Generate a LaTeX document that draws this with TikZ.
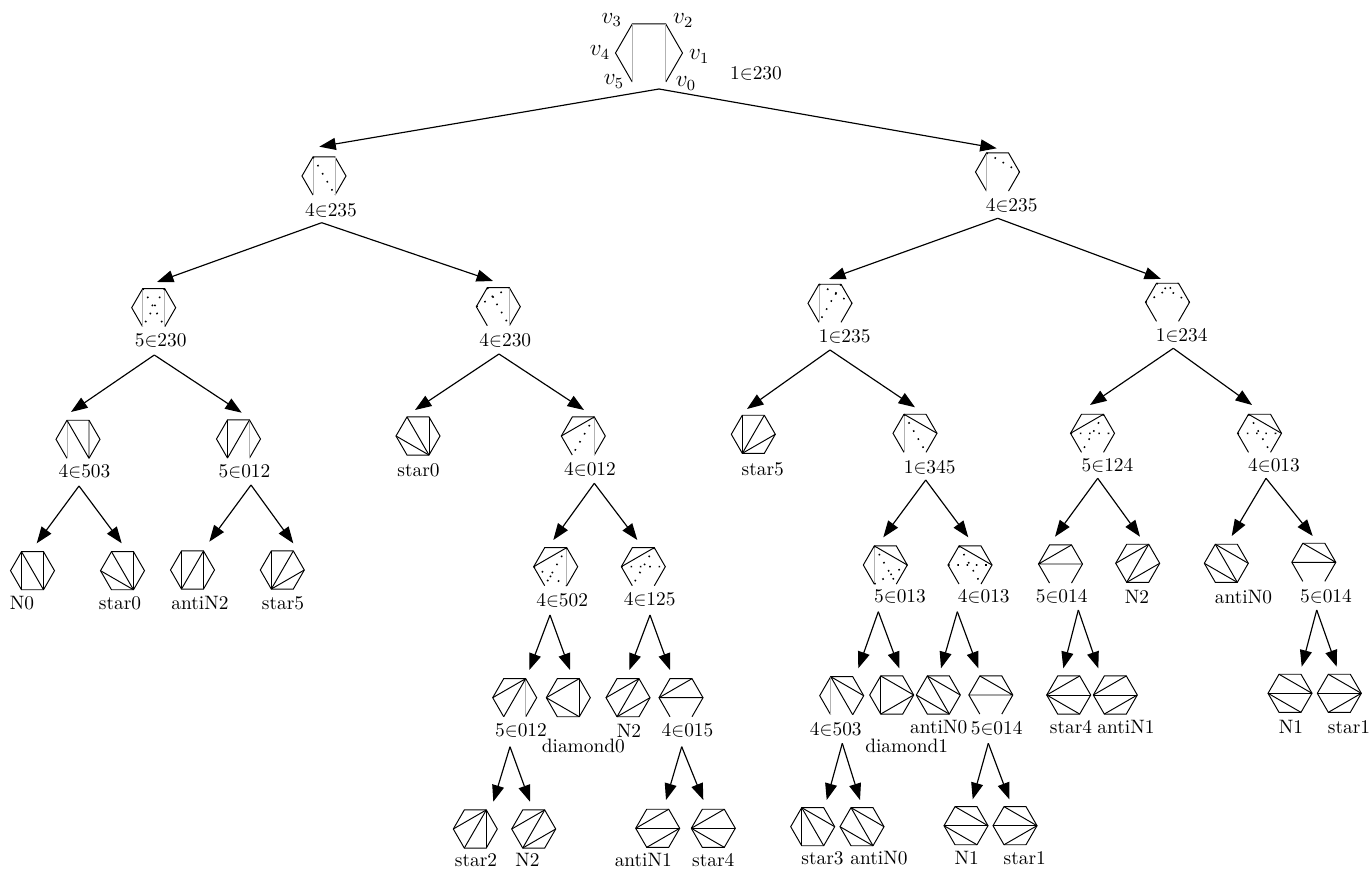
\documentclass[tikz,border=0pt]{standalone}
\usepackage{amsmath}
\usetikzlibrary{arrows.meta,calc}

\tikzset{
  arr/.style={-{Triangle[length=8.5pt,width=6.2pt]}, line width=0.6pt},
  lab/.style={inner sep=0pt},
  vlab/.style={font=\large},
  gry/.style={draw=black!30},
  dts/.style={loosely dotted, line width=0.8pt},
}
% open hexagon: name, centre, radius
\newcommand{\hexo}[3]{%
  \coordinate (#1) at (#2);
  \foreach \k in {0,...,5}{\coordinate (#1-\k) at ($(#1)+({60-60*\k}:#3)$);}
  \draw (#1-0)--(#1-1)--(#1-2)--(#1-3)--(#1-4)--(#1-5);
}
% full triangulation: name, centre, diagonals
\newcommand{\hexc}[3]{%
  \coordinate (#1) at (#2);
  \foreach \k in {0,...,5}{\coordinate (#1-\k) at ($(#1)+({60-60*\k}:22)$);}
  \draw (#1-0)--(#1-1)--(#1-2)--(#1-3)--(#1-4)--(#1-5)--cycle;
  \foreach \a/\b in {#3}{\draw (#1-\a)--(#1-\b);}
}

\begin{document}
\begin{tikzpicture}[x=0.516pt,y=-0.516pt,line width=0.5pt]
\useasboundingbox (0,0) rectangle (1371,869);
%root
\hexo{root}{649,53}{33.5}
\draw[gry] (root-3)--(root-5) (root-2)--(root-0);
\node[vlab] (v0) at (686,83.3) {$v_0$};
\node[vlab] (v1) at (699.3,56.7) {$v_1$};
\node[vlab] (v2) at (683.3,20.7) {$v_2$};
\node[vlab] (v3) at (611.7,20) {$v_3$};
\node[vlab] (v4) at (600,52.3) {$v_4$};
\node[vlab] (v5) at (614,81.7) {$v_5$};
\node[lab] (root-t) at (756,73) {1$\in$230};
\coordinate (root-out) at (659,89);
%level 1
\hexo{L}{324,176}{22}
\draw[gry] (L-3)--(L-5) (L-2)--(L-0);
\draw[dts] (L-3)--(L-0);
\node[lab] (L-t) at (331,210) {4$\in$235};
\coordinate (L-in) at (319.3,146.7);
\coordinate (L-out) at (321.7,222.7);
\hexo{R}{997.5,172}{22}
\draw[gry] (R-3)--(R-5);
\draw[dts] (R-3)--(R-1);
\node[lab] (R-t) at (1011.7,205) {4$\in$235};
\coordinate (R-in) at (996.7,148.3);
\coordinate (R-out) at (997.7,218.3);
%level 2
\hexo{LL}{153.7,307.7}{22}
\draw[gry] (LL-3)--(LL-5) (LL-2)--(LL-0);
\draw[dts] (LL-3)--(LL-0) (LL-2)--(LL-5);
\node[lab] (LL-t) at (160.7,340) {5$\in$230};
\coordinate (LL-in) at (157,282);
\coordinate (LL-out) at (154.3,355);
\hexo{LR}{498.3,306.7}{22}
\draw[gry] (LR-2)--(LR-0);
\draw[dts] (LR-4)--(LR-2) (LR-3)--(LR-0);
\node[lab] (LR-t) at (505.3,340) {4$\in$230};
\coordinate (LR-in) at (493,281);
\coordinate (LR-out) at (499,354);
\hexo{RL}{830,303.3}{22}
\draw[gry] (RL-3)--(RL-5);
\draw[dts] (RL-3)--(RL-1) (RL-2)--(RL-5);
\node[lab] (RL-t) at (844.7,336) {1$\in$235};
\coordinate (RL-in) at (829,279);
\coordinate (RL-out) at (830,350);
\hexo{RR}{1167.5,302.3}{22}
\draw[dts] (RR-4)--(RR-2) (RR-3)--(RR-1);
\node[lab] (RR-t) at (1181.7,335) {1$\in$234};
\coordinate (RR-in) at (1161,279);
\coordinate (RR-out) at (1173.3,348.3);
%level 3
\hexo{LLL}{78,439.3}{22}
\draw[gry] (LLL-3)--(LLL-5);
\draw (LLL-3)--(LLL-0) (LLL-2)--(LLL-0);
\node[lab] (LLL-t) at (84.5,471.7) {4$\in$503};
\coordinate (LLL-in) at (71,412);
\coordinate (LLL-out) at (79,486);
\hexo{LLR}{238.5,439}{22}
\draw[gry] (LLR-2)--(LLR-0);
\draw (LLR-3)--(LLR-5) (LLR-5)--(LLR-2);
\node[lab] (LLR-t) at (244.5,471) {5$\in$012};
\coordinate (LLR-in) at (241.7,412.7);
\coordinate (LLR-out) at (251,485);
\hexc{LRL}{418,436}{0/2,0/3,0/4}
\node[lab] (LRL-t) at (418.5,470) {star0};
\coordinate (LRL-in) at (415,410);
\hexo{LRR}{583.3,436}{22}
\draw[gry] (LRR-2)--(LRR-0);
\draw (LRR-4)--(LRR-2);
\draw[dts] (LRR-2)--(LRR-5);
\node[lab] (LRR-t) at (590,469.3) {4$\in$012};
\coordinate (LRR-in) at (584,410);
\coordinate (LRR-out) at (594.3,483.3);
\hexc{RLL}{753.3,434.3}{5/1,5/2,5/3}
\node[lab] (RLL-t) at (762.8,469) {star5};
\coordinate (RLL-in) at (747,409);
\hexo{RLR}{915,433.3}{22}
\draw[gry] (RLR-3)--(RLR-5);
\draw (RLR-3)--(RLR-1);
\draw[dts] (RLR-3)--(RLR-0);
\node[lab] (RLR-t) at (929.7,467.7) {1$\in$345};
\coordinate (RLR-in) at (915,407.3);
\coordinate (RLR-out) at (925.7,480);
\hexo{RRL}{1092.5,433.3}{22}
\draw (RRL-4)--(RRL-2);
\draw[dts] (RRL-4)--(RRL-1) (RRL-2)--(RRL-5);
\node[lab] (RRL-t) at (1107.5,465) {5$\in$124};
\coordinate (RRL-in) at (1090,405);
\coordinate (RRL-out) at (1097.7,478.3);
\hexo{RRR}{1259.5,433.3}{22}
\draw (RRR-3)--(RRR-1);
\draw[dts] (RRR-4)--(RRR-1) (RRR-3)--(RRR-0);
\node[lab] (RRR-t) at (1274,465) {4$\in$013};
\coordinate (RRR-in) at (1252,405);
\coordinate (RRR-out) at (1266,478.3);
%level 4
\hexc{LLLL}{32.5,570.7}{3/5,3/0,2/0}
\node[lab] (LLLL-t) at (22,603) {N0};
\coordinate (LLLL-in) at (36.7,543.3);
\hexc{LLLR}{122.5,570.7}{0/2,0/3,0/4}
\node[lab] (LLLR-t) at (120,603) {star0};
\coordinate (LLLR-in) at (121.7,543.3);
\hexc{LLRL}{192.5,570}{3/5,5/2,2/0}
\node[lab] (LLRL-t) at (200,603) {antiN2};
\coordinate (LLRL-in) at (209.3,541.7);
\hexc{LLRR}{282.3,570}{5/1,5/2,5/3}
\node[lab] (LLRR-t) at (283,603) {star5};
\coordinate (LLRR-in) at (293.3,543.3);
\hexo{LRRL}{555.7,566.7}{22}
\draw[gry] (LRRL-2)--(LRRL-0);
\draw (LRRL-4)--(LRRL-2);
\draw[dts] (LRRL-2)--(LRRL-5) (LRRL-4)--(LRRL-0);
\node[lab] (LRRL-t) at (562.2,600) {4$\in$502};
\coordinate (LRRL-in) at (553.3,540);
\coordinate (LRRL-out) at (550,615);
\hexo{LRRR}{643.3,566.7}{22}
\draw (LRRR-4)--(LRRR-2);
\draw[dts] (LRRR-4)--(LRRR-1) (LRRR-2)--(LRRR-5);
\node[lab] (LRRR-t) at (649.7,599.3) {4$\in$125};
\coordinate (LRRR-in) at (637.3,540);
\coordinate (LRRR-out) at (650,615);
\hexo{RLRL}{885.3,565}{22}
\draw[gry] (RLRL-3)--(RLRL-5);
\draw (RLRL-3)--(RLRL-1);
\draw[dts] (RLRL-3)--(RLRL-0) (RLRL-5)--(RLRL-1);
\node[lab] (RLRL-t) at (900,596.7) {5$\in$013};
\coordinate (RLRL-in) at (883.3,537.3);
\coordinate (RLRL-out) at (878.3,611.7);
\hexo{RLRR}{970,565}{22}
\draw (RLRR-3)--(RLRR-1);
\draw[dts] (RLRR-4)--(RLRR-1) (RLRR-3)--(RLRR-0);
\node[lab] (RLRR-t) at (983.8,596.7) {4$\in$013};
\coordinate (RLRR-in) at (968.3,537.3);
\coordinate (RLRR-out) at (957.3,611.7);
\hexo{RRLL}{1060.5,564}{22}
\draw (RRLL-4)--(RRLL-2) (RRLL-4)--(RRLL-1);
\node[lab] (RRLL-t) at (1061.7,596.7) {5$\in$014};
\coordinate (RRLL-in) at (1055,536.7);
\coordinate (RRLL-out) at (1078.3,610);
\hexc{RRLR}{1137.7,563.3}{4/2,5/2,5/1}
\node[lab] (RRLR-t) at (1137,596.7) {N2};
\coordinate (RRLR-in) at (1140,536.7);
\hexc{RRRL}{1226.3,563.3}{3/1,3/0,4/0}
\node[lab] (RRRL-t) at (1243.5,596.7) {antiN0};
\coordinate (RRRL-in) at (1231.7,536);
\hexo{RRRR}{1313.8,562.3}{22}
\draw (RRRR-3)--(RRRR-1) (RRRR-4)--(RRRR-1);
\node[lab] (RRRR-t) at (1326,596.7) {5$\in$014};
\coordinate (RRRR-in) at (1312.7,536);
\coordinate (RRRR-out) at (1316.7,610);
%level 5
\hexo{LRRLL}{514.7,697.7}{22}
\draw[gry] (LRRLL-2)--(LRRLL-0);
\draw (LRRLL-4)--(LRRLL-2) (LRRLL-5)--(LRRLL-2);
\node[lab] (LRRLL-t) at (521,730.7) {5$\in$012};
\coordinate (LRRLL-in) at (529.3,670);
\coordinate (LRRLL-out) at (510,746.7);
\hexc{LRRLR}{568.3,697.7}{2/4,4/0,0/2}
\node[lab] (LRRLR-t) at (583.3,746) {diamond0};
\coordinate (LRRLR-in) at (570,670);
\hexc{LRRRL}{628,697.7}{4/2,5/2,5/1}
\node[lab] (LRRRL-t) at (629,730.7) {N2};
\coordinate (LRRRL-in) at (629.3,670);
\hexo{LRRRR}{681,697.7}{22}
\draw (LRRRR-4)--(LRRRR-2) (LRRRR-4)--(LRRRR-1);
\node[lab] (LRRRR-t) at (687.5,730.7) {4$\in$015};
\coordinate (LRRRR-in) at (670,670);
\coordinate (LRRRR-out) at (681.7,746.7);
\hexo{RLRLL}{841.7,695.7}{22}
\draw[gry] (RLRLL-3)--(RLRLL-5);
\draw (RLRLL-3)--(RLRLL-1) (RLRLL-3)--(RLRLL-0);
\node[lab] (RLRLL-t) at (835.8,729.3) {4$\in$503};
\coordinate (RLRLL-in) at (858.3,668.3);
\coordinate (RLRLL-out) at (842.3,743.3);
\hexc{RLRLR}{891.7,695}{1/3,3/5,5/1}
\node[lab] (RLRLR-t) at (906.7,746) {diamond1};
\coordinate (RLRLR-in) at (899.3,668.3);
\hexc{RLRRL}{938.3,695}{3/1,3/0,4/0}
\node[lab] (RLRRL-t) at (938.7,727) {antiN0};
\coordinate (RLRRL-in) at (941,668.3);
\hexo{RLRRR}{990.8,695}{22}
\draw (RLRRR-3)--(RLRRR-1) (RLRRR-4)--(RLRRR-1);
\node[lab] (RLRRR-t) at (996.7,728.3) {5$\in$014};
\coordinate (RLRRR-in) at (978.3,668.3);
\coordinate (RLRRR-out) at (988.3,743.3);
\hexc{RRLLL}{1068.7,695}{4/2,4/1,4/0}
\node[lab] (RRLLL-t) at (1071,727) {star4};
\coordinate (RRLLL-in) at (1063.3,668.3);
\hexc{RRLLR}{1115.3,695}{4/2,4/1,5/1}
\node[lab] (RRLLR-t) at (1126,727) {antiN1};
\coordinate (RRLLR-in) at (1098.3,668.3);
\hexc{RRRRL}{1290,693.3}{3/1,4/1,4/0}
\node[lab] (RRRRL-t) at (1291,727) {N1};
\coordinate (RRRRL-in) at (1301.7,666.7);
\hexc{RRRRR}{1339.3,693.3}{1/3,1/4,1/5}
\node[lab] (RRRRR-t) at (1349,727) {star1};
\coordinate (RRRRR-in) at (1336.7,666.7);
%level 6
\hexc{LRRLLL}{475.3,829}{2/4,2/5,2/0}
\node[lab] (LRRLLL-t) at (476,860) {star2};
\coordinate (LRRLLL-in) at (493.3,801.7);
\hexc{LRRLLR}{533.7,829}{4/2,5/2,5/1}
\node[lab] (LRRLLR-t) at (527.5,860) {N2};
\coordinate (LRRLLR-in) at (530,801.7);
\hexc{LRRRRL}{657.7,828.3}{4/2,4/1,5/1}
\node[lab] (LRRRRL-t) at (643.3,860) {antiN1};
\coordinate (LRRRRL-in) at (666,800);
\hexc{LRRRRR}{713.3,828.3}{4/2,4/1,4/0}
\node[lab] (LRRRRR-t) at (713.3,860) {star4};
\coordinate (LRRRRR-in) at (703.3,800);
\hexc{RLRLLL}{812.7,826.7}{3/5,3/0,3/1}
\node[lab] (RLRLLL-t) at (822.5,858) {star3};
\coordinate (RLRLLL-in) at (826.7,800);
\hexc{RLRLLR}{862,826.7}{3/1,3/0,4/0}
\node[lab] (RLRLLR-t) at (879,858) {antiN0};
\coordinate (RLRLLR-in) at (860,800);
\hexc{RLRRRL}{966,825.7}{3/1,4/1,4/0}
\node[lab] (RLRRRL-t) at (966.7,858) {N1};
\coordinate (RLRRRL-in) at (972.7,799.3);
\hexc{RLRRRR}{1015,825.7}{1/3,1/4,1/5}
\node[lab] (RLRRRR-t) at (1024.7,858) {star1};
\coordinate (RLRRRR-in) at (1009.3,799.3);
%edges
\foreach \p/\c in {root/L,root/R,L/LL,L/LR,R/RL,R/RR,
  LL/LLL,LL/LLR,LR/LRL,LR/LRR,RL/RLL,RL/RLR,RR/RRL,RR/RRR,
  LLL/LLLL,LLL/LLLR,LLR/LLRL,LLR/LLRR,LRR/LRRL,LRR/LRRR,
  RLR/RLRL,RLR/RLRR,RRL/RRLL,RRL/RRLR,RRR/RRRL,RRR/RRRR,
  LRRL/LRRLL,LRRL/LRRLR,LRRR/LRRRL,LRRR/LRRRR,
  RLRL/RLRLL,RLRL/RLRLR,RLRR/RLRRL,RLRR/RLRRR,
  RRLL/RRLLL,RRLL/RRLLR,RRRR/RRRRL,RRRR/RRRRR,
  LRRLL/LRRLLL,LRRLL/LRRLLR,LRRRR/LRRRRL,LRRRR/LRRRRR,
  RLRLL/RLRLLL,RLRLL/RLRLLR,RLRRR/RLRRRL,RLRRR/RLRRRR}
  \draw[arr] (\p-out) -- (\c-in);
\end{tikzpicture}
\end{document}
